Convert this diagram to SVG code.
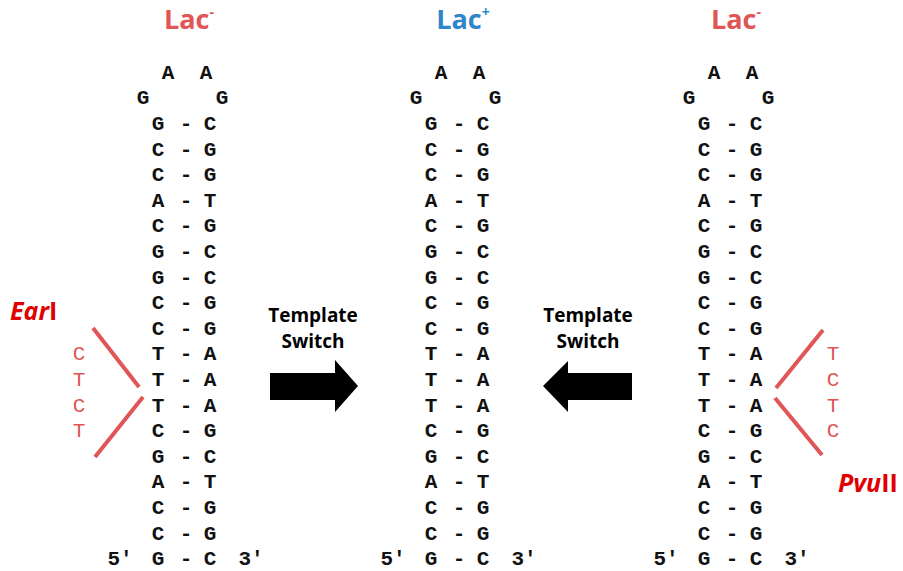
<svg xmlns="http://www.w3.org/2000/svg" width="903" height="571" viewBox="0 0 903 571">
<style>
.b{font-family:"Liberation Mono","DejaVu Sans Mono",monospace;font-weight:bold;font-size:21px;fill:#111;text-anchor:middle}
.r{font-family:"Liberation Mono",monospace;font-size:21px;fill:#e05555;text-anchor:middle}
.t{font-family:"Open Sans","Liberation Sans",sans-serif;font-weight:bold;font-size:27px;text-anchor:middle}
.sw{font-family:"Open Sans","Liberation Sans",sans-serif;font-weight:bold;font-size:19px;fill:#000;text-anchor:middle}
.en{font-family:"Open Sans","Liberation Sans",sans-serif;font-weight:bold;font-size:25px;fill:#e00000}
.ln{stroke:#e05555;stroke-width:4;stroke-linecap:butt}
</style>
<defs>
<g id="stem">
<text class="b" x="168" y="79">A</text><text class="b" x="206" y="79">A</text>
<text class="b" x="143" y="104">G</text><text class="b" x="222" y="104">G</text>
<text class="b" x="158" y="130">G</text><text class="b" x="186" y="130">-</text><text class="b" x="210" y="130">C</text>
<text class="b" x="158" y="155.6">C</text><text class="b" x="186" y="155.6">-</text><text class="b" x="210" y="155.6">G</text>
<text class="b" x="158" y="181.2">C</text><text class="b" x="186" y="181.2">-</text><text class="b" x="210" y="181.2">G</text>
<text class="b" x="158" y="206.8">A</text><text class="b" x="186" y="206.8">-</text><text class="b" x="210" y="206.8">T</text>
<text class="b" x="158" y="232.4">C</text><text class="b" x="186" y="232.4">-</text><text class="b" x="210" y="232.4">G</text>
<text class="b" x="158" y="258">G</text><text class="b" x="186" y="258">-</text><text class="b" x="210" y="258">C</text>
<text class="b" x="158" y="283.6">G</text><text class="b" x="186" y="283.6">-</text><text class="b" x="210" y="283.6">C</text>
<text class="b" x="158" y="309.2">C</text><text class="b" x="186" y="309.2">-</text><text class="b" x="210" y="309.2">G</text>
<text class="b" x="158" y="334.8">C</text><text class="b" x="186" y="334.8">-</text><text class="b" x="210" y="334.8">G</text>
<text class="b" x="158" y="360.4">T</text><text class="b" x="186" y="360.4">-</text><text class="b" x="210" y="360.4">A</text>
<text class="b" x="158" y="386">T</text><text class="b" x="186" y="386">-</text><text class="b" x="210" y="386">A</text>
<text class="b" x="158" y="411.6">T</text><text class="b" x="186" y="411.6">-</text><text class="b" x="210" y="411.6">A</text>
<text class="b" x="158" y="437.2">C</text><text class="b" x="186" y="437.2">-</text><text class="b" x="210" y="437.2">G</text>
<text class="b" x="158" y="462.8">G</text><text class="b" x="186" y="462.8">-</text><text class="b" x="210" y="462.8">C</text>
<text class="b" x="158" y="488.4">A</text><text class="b" x="186" y="488.4">-</text><text class="b" x="210" y="488.4">T</text>
<text class="b" x="158" y="514">C</text><text class="b" x="186" y="514">-</text><text class="b" x="210" y="514">G</text>
<text class="b" x="158" y="539.6">C</text><text class="b" x="186" y="539.6">-</text><text class="b" x="210" y="539.6">G</text>
<text class="b" x="120" y="565.2">5′</text><text class="b" x="158" y="565.2">G</text><text class="b" x="186" y="565.2">-</text><text class="b" x="210" y="565.2">C</text><text class="b" x="251" y="565.2">3′</text>
</g>
</defs>
<g id="left-hairpin">
<text class="t" x="189" y="29" fill="#e05555">Lac<tspan font-size="14" dy="-12">-</tspan></text>
<use href="#stem"/>
</g>
<g id="middle-hairpin">
<text class="t" x="463" y="29" fill="#2f86c8">Lac<tspan font-size="14" dy="-12">+</tspan></text>
<use href="#stem" transform="translate(273 0)"/>
</g>
<g id="right-hairpin">
<text class="t" x="736" y="29" fill="#e05555">Lac<tspan font-size="14" dy="-12">-</tspan></text>
<use href="#stem" transform="translate(546 0)"/>
</g>
<g id="earI">
<text class="en" x="10" y="320"><tspan font-style="italic">Ear</tspan>I</text>
<text class="r" x="79" y="360.4">C</text>
<text class="r" x="79" y="386">T</text>
<text class="r" x="79" y="411.6">C</text>
<text class="r" x="79" y="437.2">T</text>
<line class="ln" x1="93" y1="328" x2="139" y2="387"/>
<line class="ln" x1="143" y1="397" x2="95" y2="457"/>
</g>
<g id="pvuII">
<text class="en" x="838" y="492" font-size="26"><tspan font-style="italic">Pvu</tspan>II</text>
<text class="r" x="833" y="360.4">T</text>
<text class="r" x="833" y="386">C</text>
<text class="r" x="833" y="411.6">T</text>
<text class="r" x="833" y="437.2">C</text>
<line class="ln" x1="823" y1="330" x2="776" y2="388"/>
<line class="ln" x1="775" y1="398" x2="822" y2="455"/>
</g>
<g id="connectors">
<g id="switch-right">
<text class="sw" x="313" y="322">Template</text>
<text class="sw" x="313" y="348">Switch</text>
<polygon points="270,373 335,373 335,360 358,386 335,412 335,400 270,400" fill="#000"/>
</g>
<g id="switch-left">
<text class="sw" x="588" y="322">Template</text>
<text class="sw" x="588" y="348">Switch</text>
<polygon points="632,373 568,373 568,361 543,386 568,412 568,400 632,400" fill="#000"/>
</g>
</g>
</svg>
